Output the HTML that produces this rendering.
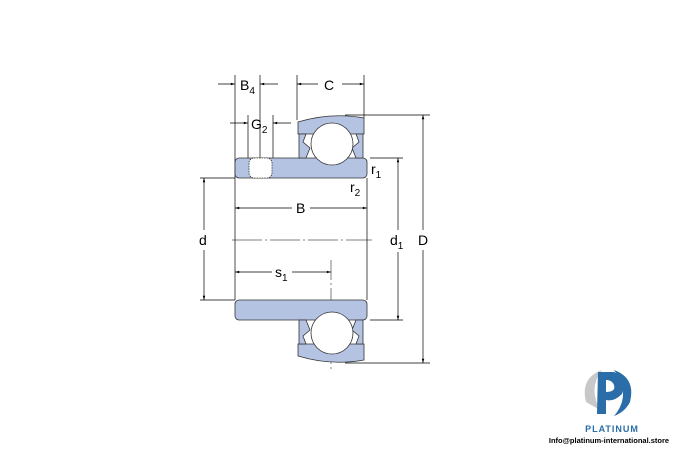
<!DOCTYPE html>
<html><head><style>
body{margin:0;background:#fff;}
svg{display:block;font-family:"Liberation Sans",sans-serif;}
</style></head><body>
<svg width="675" height="450" viewBox="0 0 675 450">
<defs>
<marker id="a" viewBox="0 0 10 10" refX="10" refY="5" markerWidth="7" markerHeight="6" orient="auto-start-reverse"><path d="M0,2 L10,5 L0,8 z" fill="#000"/></marker>
</defs>
<g stroke="#000" stroke-width="0.7" fill="none">
<line x1="235" y1="75" x2="235" y2="300"/>
<line x1="260" y1="75" x2="260" y2="160"/>
<line x1="297" y1="75" x2="297" y2="120"/>
<line x1="364" y1="75" x2="364" y2="118"/>
<line x1="248" y1="115" x2="248" y2="160"/>
<line x1="273" y1="115" x2="273" y2="160"/>
<line x1="367" y1="178" x2="367" y2="300"/>
<line x1="345" y1="115" x2="430" y2="115"/>
<line x1="345" y1="363" x2="430" y2="363"/>
<line x1="370" y1="158" x2="403" y2="158"/>
<line x1="370" y1="320" x2="403" y2="320"/>
<line x1="200" y1="178" x2="235" y2="178"/>
<line x1="200" y1="300" x2="235" y2="300"/>
<line x1="218" y1="84" x2="235" y2="84" marker-end="url(#a)"/>
<line x1="278" y1="84" x2="260" y2="84" marker-end="url(#a)"/>
<line x1="297" y1="84" x2="318" y2="84" marker-start="url(#a)"/>
<line x1="342" y1="84" x2="364" y2="84" marker-end="url(#a)"/>
<line x1="230" y1="123" x2="248" y2="123" marker-end="url(#a)"/>
<line x1="291" y1="123" x2="273" y2="123" marker-end="url(#a)"/>
<line x1="235" y1="208" x2="292" y2="208" marker-start="url(#a)"/>
<line x1="310" y1="208" x2="367" y2="208" marker-end="url(#a)"/>
<line x1="235" y1="272" x2="272" y2="272" marker-start="url(#a)"/>
<line x1="292" y1="272" x2="331" y2="272" marker-end="url(#a)"/>
<line x1="204" y1="178" x2="204" y2="230" marker-start="url(#a)"/>
<line x1="204" y1="250" x2="204" y2="300" marker-end="url(#a)"/>
<line x1="398" y1="158" x2="398" y2="230" marker-start="url(#a)"/>
<line x1="398" y1="252" x2="398" y2="320" marker-end="url(#a)"/>
<line x1="423" y1="115" x2="423" y2="230" marker-start="url(#a)"/>
<line x1="423" y1="250" x2="423" y2="363" marker-end="url(#a)"/>
<line x1="232" y1="240" x2="372" y2="240" stroke-dasharray="30,3,2,3" stroke-width="0.5"/>
<line x1="331" y1="260" x2="331" y2="370" stroke-dasharray="20,3,2,3" stroke-width="0.5"/>
</g>
<g stroke="#333" stroke-width="0.8" fill="#b5c3e3">
<rect x="235" y="158" width="132" height="20" rx="4"/>
<rect x="235" y="300" width="132" height="20" rx="4"/>
<path d="M298,122 Q331,112 364,118 L364,134 L298,134 Z"/>
<path d="M298,356 Q331,366 364,360 L364,344 L298,344 Z"/>
<path d="M299,134 L306,134 L303,142 L310,148 L306,158 L299,158 Z"/>
<path d="M363,134 L356,134 L359,142 L352,148 L356,158 L363,158 Z"/>
<path d="M299,344 L306,344 L303,336 L310,330 L306,320 L299,320 Z"/>
<path d="M363,344 L356,344 L359,336 L352,330 L356,320 L363,320 Z"/>
</g>
<g stroke="#333" stroke-width="0.8" fill="#fff">
<circle cx="332" cy="144" r="21"/>
<circle cx="332" cy="333" r="21"/>
<rect x="249" y="158" width="23" height="20" rx="5" stroke-dasharray="1.5,1"/>
</g>
<g font-size="14" fill="#000">
<text x="240" y="90">B<tspan font-size="10" dy="4">4</tspan></text>
<text x="324" y="90">C</text>
<text x="251" y="129">G<tspan font-size="10" dy="4">2</tspan></text>
<text x="371" y="174">r<tspan font-size="10" dy="4">1</tspan></text>
<text x="350" y="192">r<tspan font-size="10" dy="4">2</tspan></text>
<text x="296" y="213">B</text>
<text x="199" y="245">d</text>
<text x="390" y="245">d<tspan font-size="10" dy="4">1</tspan></text>
<text x="418" y="245">D</text>
<text x="275" y="277">s<tspan font-size="10" dy="4">1</tspan></text>
</g>
<path d="M586,402 Q580,378 602,370 Q588,388 600,410 Z" fill="#c8c8c8"/>
<path d="M614,370 Q636,378 630,402 Q625,412 614,416 Q632,395 614,370 Z" fill="#2a6da8"/>
<path d="M598,372 L614,372 Q628,378 622,394 Q614,402 606,400 L606,414 L597,414 Z M606,380 L606,392 Q616,392 614,385 Q612,380 606,380 Z" fill="#2a6da8"/>
<text x="612" y="432" font-size="9" font-weight="bold" fill="#2a6da8" text-anchor="middle" letter-spacing="1">PLATINUM</text>
<text x="609" y="443" font-size="7.5" font-weight="bold" fill="#000" text-anchor="middle">Info@platinum-international.store</text>
</svg>
</body></html>
